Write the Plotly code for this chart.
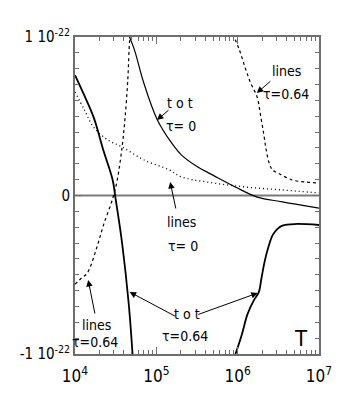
"""
Cooling function contributions vs temperature (tot / lines, tau = 0 and 0.64)
"""

import numpy as np
import plotly.graph_objects as go

# ── Datos (log10 T, valor en unidades de 1e-22) ─────────────────────────────
tot0_logT = [4.67, 4.73, 4.846, 5.01, 5.19, 5.31, 5.51, 5.69, 5.97, 6.24, 6.55, 7.0]
tot0_val  = [1.0, 0.92, 0.71, 0.48, 0.33, 0.255, 0.18, 0.13, 0.054, -0.01, -0.04, -0.08]

lines0_logT = [4.0, 4.116, 4.23, 4.405, 4.58, 4.85, 5.16, 5.31, 5.62, 6.09, 6.55, 7.0]
lines0_val  = [0.653, 0.54, 0.43, 0.35, 0.306, 0.224, 0.161, 0.117, 0.085, 0.054, 0.035, 0.016]

tot64_logT = [4.0, 4.116, 4.232, 4.348, 4.463, 4.498, 4.579, 4.66, 4.71, None,
              5.96, 6.05, 6.12, 6.20, 6.26, 6.29, 6.33, 6.375, 6.43, 6.49, 6.55, 6.70, 7.0]
tot64_val  = [0.76, 0.63, 0.49, 0.287, 0.098, -0.016, -0.30, -0.68, -1.02, None,
              -1.02, -0.88, -0.75, -0.66, -0.61, -0.53, -0.42, -0.33, -0.25, -0.21, -0.19, -0.18, -0.186]

lines64_logT = [4.0, 4.081, 4.15, 4.267, 4.348, 4.463, 4.52, 4.58, 4.614, 4.649, 4.672, 4.69, None,
                5.94, 6.02, 6.09, 6.155, 6.24, 6.28, 6.32, 6.35, 6.39, 6.43, 6.50, 6.67, 6.84, 7.0]
lines64_val  = [-0.56, -0.52, -0.49, -0.33, -0.19, -0.02, 0.10, 0.31, 0.48, 0.73, 0.98, 1.05, None,
                1.02, 0.92, 0.81, 0.716, 0.62, 0.51, 0.39, 0.29, 0.20, 0.16, 0.14, 0.098, 0.085, 0.079]

x_ticks = [1e4, 1e5, 1e6, 1e7]
x_ticktext = ["10<sup>4</sup>", "10<sup>5</sup>", "10<sup>6</sup>", "10<sup>7</sup>"]
y_ticks = [-1, 0, 1]
y_ticktext = ["-1 10<sup>-22</sup>", "0", "1 10<sup>-22</sup>"]


def to_T(logs):
    return [None if v is None else 10 ** v for v in logs]


FONT = "DejaVu Sans Condensed, Liberation Sans Narrow, Roboto Condensed, sans-serif"
FRAME = "#6e6e6e"

fig = go.Figure()

# línea del cero
fig.add_trace(go.Scatter(x=[1e4, 1e7], y=[0, 0], mode="lines",
                         line=dict(color="#7a7a7a", width=2), hoverinfo="skip"))

fig.add_trace(go.Scatter(x=to_T(tot0_logT), y=tot0_val, mode="lines",
                         line=dict(color="black", width=1.2, shape="spline")))
fig.add_trace(go.Scatter(x=to_T(lines0_logT), y=lines0_val, mode="lines",
                         line=dict(color="black", width=1.3, dash="1px,3px", shape="spline")))
fig.add_trace(go.Scatter(x=to_T(tot64_logT), y=tot64_val, mode="lines", connectgaps=False,
                         line=dict(color="black", width=1.8, shape="spline")))
fig.add_trace(go.Scatter(x=to_T(lines64_logT), y=lines64_val, mode="lines", connectgaps=False,
                         line=dict(color="black", width=1.2, dash="3px,3px", shape="spline")))

# ── Textos (posiciones en px de la página) ───────────────────────────────
labels = [
    ("t o t", 171, 103), ("τ= 0", 172, 126),
    ("lines", 285, 71), ("τ=0.64", 284, 94),
    ("lines", 173, 222), ("τ= 0", 175, 246),
    ("lines", 83, 325), ("τ=0.64", 81, 342),
    ("t o t", 179, 314), ("τ=0.64", 177, 336),
]
PL, PT, PW, PH = 60, 37, 259, 317
OFF = 8  # margen por defecto del body


def px_to_paper(px, py):
    return (px - PL) / PW, 1 - (py - PT) / PH


for txt, px, py in labels:
    xp, yp = px_to_paper(px, py)
    fig.add_annotation(text=txt, x=xp, y=yp, xref="paper", yref="paper",
                       xanchor="center", yanchor="middle",
                       showarrow=False, font=dict(size=14, color="black", family=FONT))

xp, yp = px_to_paper(300, 338)
fig.add_annotation(text="T", x=xp, y=yp, xref="paper", yref="paper",
                   xanchor="center", yanchor="middle",
                   showarrow=False, font=dict(size=22, color="black", family=FONT))

# flechas (cabeza en px, cola en px)
arrows = [
    ((147, 120), (160, 109)),
    ((253, 93), (268, 80)),
    ((161, 182), (167, 210)),
    ((74, 280), (81, 315)),
    ((118, 292), (165, 317)),
    ((254, 293), (193, 315)),
]
for (hx, hy), (tx, ty) in arrows:
    xp, yp = px_to_paper(hx, hy)
    fig.add_annotation(text="", x=xp, y=yp, xref="paper", yref="paper",
                       ax=tx - hx, ay=ty - hy, showarrow=True,
                       arrowhead=2, arrowsize=1.3, arrowwidth=1, arrowcolor="black")

# ── Layout ────────────────────────────────────────────────────────────────
W, H = 346 - OFF, 415 - OFF
fig.update_layout(
    width=W, height=H,
    paper_bgcolor="white", plot_bgcolor="white",
    showlegend=False,
    margin=dict(l=PL - OFF, r=W - (PL - OFF) - PW, t=PT - OFF, b=H - (PT - OFF) - PH),
    font=dict(family=FONT, color="black", size=17),
)

minor_x = [m * 10 ** e for e in (4, 5, 6) for m in range(2, 10)]
minor_y = [round(-0.9 + 0.1 * i, 1) for i in range(19)]
fig.update_xaxes(
    type="log", range=[4, 7],
    tickvals=x_ticks, ticktext=x_ticktext,
    ticks="inside", ticklen=7, tickcolor=FRAME, tickwidth=1,
    minor=dict(tickvals=minor_x, ticks="inside", ticklen=4, tickcolor=FRAME),
    showline=True, linecolor=FRAME, linewidth=2, mirror="ticks",
    showgrid=False, zeroline=False, ticklabelstandoff=6,
)
fig.update_yaxes(
    range=[-1, 1],
    tickvals=y_ticks, ticktext=y_ticktext,
    ticks="inside", ticklen=6, tickcolor=FRAME, tickwidth=1,
    minor=dict(tickvals=minor_y, ticks="inside", ticklen=4, tickcolor=FRAME),
    showline=True, linecolor=FRAME, linewidth=2, mirror="ticks",
    showgrid=False, zeroline=False, tickfont=dict(size=15),
)

fig.write_html("out.html")
